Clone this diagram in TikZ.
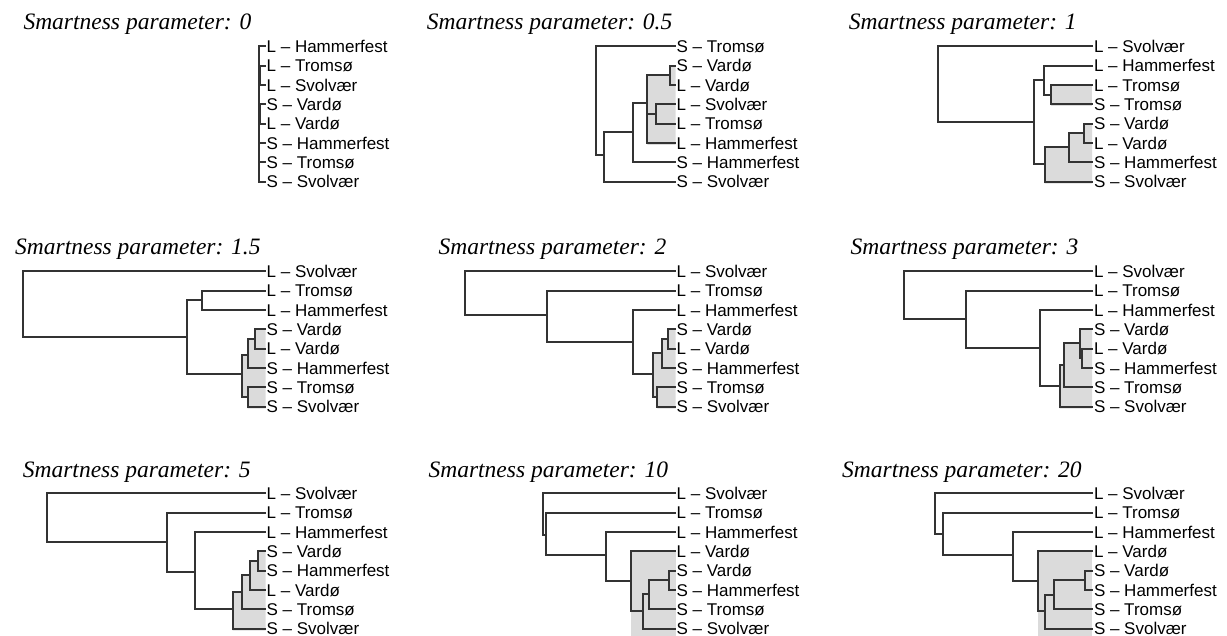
\documentclass[tikz,border=0pt]{standalone}
\usepackage{fontspec}
\setmainfont{Liberation Sans}
\newfontfamily\ttlfont{Liberation Serif}
\tikzset{
  tree/.style={draw=black!80, line width=1.8pt},
  clusterfill/.style={fill=black!14, draw=none},
  leaf/.style={anchor=west, inner sep=0pt, outer xsep=1pt, text height=12.2pt, text depth=0pt,
    font=\fontsize{17}{19}\selectfont},
  ttl/.style={anchor=base west, inner sep=0pt, font=\ttlfont\itshape\fontsize{23.5}{26}\selectfont},
  panel/.style={x=0.333333pt, y=-0.333333pt}
}
\newcommand\leafset[3]{\foreach \lbl [count=\i from 0] in {#3} {\node[leaf] (#1\i) at (#2,139+58*\i) {\lbl};}}
\begin{document}
\begin{tikzpicture}[x=1pt,y=-1pt]
\useasboundingbox (0,0) rectangle (1227,636);

% ---------- Panel A : 0 ----------
\begin{scope}[shift={(0pt,0pt)},panel]
\node[ttl] (tA) at (70,90) {Smartness parameter: 0};
\leafset{A}{797}{L – Hammerfest,L – Tromsø,L – Svolvær,S – Vardø,L – Vardø,S – Hammerfest,S – Tromsø,S – Svolvær}
\coordinate (a1) at (776,342);
\draw[tree] (A0) -| (a1) |- (A7);
\foreach \k in {1,...,6} {\draw[tree] (A\k) -- (A\k -| a1);}
\coordinate (a2) at (780,226);
\coordinate (a3) at (780,342);
\draw[tree] (A1) -| (a2) |- (A2);
\draw[tree] (A3) -| (a3) |- (A4);
\end{scope}

% ---------- Panel B : 0.5 ----------
\begin{scope}[shift={(410pt,0pt)},panel]
\fill[clusterfill] (797,197) -- (780,197) -- (780,226) -- (712,226) -- (712,435) -- (797,435) -- cycle;
\node[ttl] (tB) at (50,90) {Smartness parameter: 0.5};
\leafset{B}{797}{S – Tromsø,S – Vardø,L – Vardø,L – Svolvær,L – Tromsø,L – Hammerfest,S – Hammerfest,S – Svolvær}
\coordinate (b1) at (780,226);
\coordinate (b2) at (737,342);
\coordinate (b4) at (712,310);
\coordinate (b5) at (668,395);
\coordinate (b6) at (583,465);
\coordinate (b7) at (558,300);
\draw[tree] (B1) -| (b1) |- (B2);
\draw[tree] (B3) -| (b2) |- (B4);
\draw[tree] (b1) -| (b4) |- (B5);
\draw[tree] (b2) -- (b2 -| b4);
\draw[tree] (b4) -| (b5) |- (B6);
\draw[tree] (b5) -| (b6) |- (B7);
\draw[tree] (B0) -| (b7) |- (b6);
\end{scope}

% ---------- Panel C : 1 ----------
\begin{scope}[shift={(817pt,0pt)},panel]
\fill[clusterfill] (825,255) -- (703,255) -- (703,319) -- (825,319) -- cycle;
\fill[clusterfill] (825,371) -- (800,371) -- (800,400) -- (755,400) -- (755,440) -- (683,440) -- (683,551) -- (825,551) -- cycle;
\node[ttl] (tC) at (95,90) {Smartness parameter: 1};
\leafset{C}{828}{L – Svolvær,L – Hammerfest,L – Tromsø,S – Tromsø,S – Vardø,L – Vardø,S – Hammerfest,S – Svolvær}
\coordinate (c1) at (800,400);
\coordinate (c2) at (755,440);
\coordinate (c3) at (683,492);
\coordinate (c4) at (703,285);
\coordinate (c5) at (680,240);
\coordinate (c6) at (652,365);
\coordinate (c7) at (362,250);
\draw[tree] (C4) -| (c1) |- (C5);
\draw[tree] (c1) -| (c2) |- (C6);
\draw[tree] (c2) -| (c3) |- (C7);
\draw[tree] (C2) -| (c4) |- (C3);
\draw[tree] (C1) -| (c5) |- (c4);
\draw[tree] (c5) -| (c6) |- (c3);
\draw[tree] (C0) -| (c7) |- (c6);
\end{scope}

% ---------- Panel D : 1.5 ----------
\begin{scope}[shift={(0pt,-225pt)},panel]
\fill[clusterfill] (797,313) -- (765,313) -- (765,342) -- (743,342) -- (743,390) -- (725,390) -- (725,517) -- (743,517) -- (743,551) -- (797,551) -- cycle;
\node[ttl] (tD) at (45,90) {Smartness parameter: 1.5};
\leafset{D}{797}{L – Svolvær,L – Tromsø,L – Hammerfest,S – Vardø,L – Vardø,S – Hammerfest,S – Tromsø,S – Svolvær}
\coordinate (d1) at (765,342);
\coordinate (d2) at (743,390);
\coordinate (d3) at (743,517);
\coordinate (d4) at (725,447);
\coordinate (d5) at (605,225);
\coordinate (d6) at (560,335);
\coordinate (d7) at (68,250);
\draw[tree] (D3) -| (d1) |- (D4);
\draw[tree] (d1) -| (d2) |- (D5);
\draw[tree] (D6) -| (d3) |- (D7);
\draw[tree] (d2) -| (d4) |- (d3);
\draw[tree] (D1) -| (d5) |- (D2);
\draw[tree] (d5) -| (d6) |- (d4);
\draw[tree] (D0) -| (d7) |- (d6);
\end{scope}

% ---------- Panel E : 2 ----------
\begin{scope}[shift={(410pt,-225pt)},panel]
\fill[clusterfill] (797,313) -- (775,313) -- (775,342) -- (755,342) -- (755,385) -- (730,385) -- (730,517) -- (742,517) -- (742,551) -- (797,551) -- cycle;
\node[ttl] (tE) at (85,90) {Smartness parameter: 2};
\leafset{E}{797}{L – Svolvær,L – Tromsø,L – Hammerfest,S – Vardø,L – Vardø,S – Hammerfest,S – Tromsø,S – Svolvær}
\coordinate (e1) at (775,342);
\coordinate (e2) at (755,385);
\coordinate (e3) at (742,517);
\coordinate (e4) at (730,447);
\coordinate (e5) at (668,352);
\coordinate (e6) at (410,270);
\coordinate (e7) at (165,200);
\draw[tree] (E3) -| (e1) |- (E4);
\draw[tree] (e1) -| (e2) |- (E5);
\draw[tree] (E6) -| (e3) |- (E7);
\draw[tree] (e2) -| (e4) |- (e3);
\draw[tree] (E2) -| (e5) |- (e4);
\draw[tree] (E1) -| (e6) |- (e5);
\draw[tree] (E0) -| (e7) |- (e6);
\end{scope}

% ---------- Panel F : 3 ----------
\begin{scope}[shift={(817pt,-225pt)},panel]
\fill[clusterfill] (825,313) -- (790,313) -- (790,355) -- (742,355) -- (742,420) -- (728,420) -- (728,551) -- (825,551) -- cycle;
\node[ttl] (tF) at (100,90) {Smartness parameter: 3};
\leafset{F}{828}{L – Svolvær,L – Tromsø,L – Hammerfest,S – Vardø,L – Vardø,S – Hammerfest,S – Tromsø,S – Svolvær}
\coordinate (f1) at (795,400);
\coordinate (f2) at (790,355);
\coordinate (f3) at (742,420);
\coordinate (f4) at (728,482);
\coordinate (f5) at (668,368);
\coordinate (f6) at (447,282);
\coordinate (f7) at (262,200);
\draw[tree] (F4) -| (f1) |- (F5);
\draw[tree] (F3) -| (f2) |- (f1);
\draw[tree] (f2) -| (f3) |- (F6);
\draw[tree] (f3) -| (f4) |- (F7);
\draw[tree] (F2) -| (f5) |- (f4);
\draw[tree] (F1) -| (f6) |- (f5);
\draw[tree] (F0) -| (f7) |- (f6);
\end{scope}

% ---------- Panel G : 5 ----------
\begin{scope}[shift={(0pt,-447pt)},panel]
\fill[clusterfill] (797,313) -- (775,313) -- (775,342) -- (750,342) -- (750,385) -- (725,385) -- (725,435) -- (698,435) -- (698,551) -- (797,551) -- cycle;
\node[ttl] (tG) at (68,90) {Smartness parameter: 5};
\leafset{G}{797}{L – Svolvær,L – Tromsø,L – Hammerfest,S – Vardø,S – Hammerfest,L – Vardø,S – Tromsø,S – Svolvær}
\coordinate (g1) at (775,342);
\coordinate (g2) at (750,385);
\coordinate (g3) at (725,435);
\coordinate (g4) at (698,487);
\coordinate (g5) at (585,375);
\coordinate (g6) at (500,285);
\coordinate (g7) at (140,200);
\draw[tree] (G3) -| (g1) |- (G4);
\draw[tree] (g1) -| (g2) |- (G5);
\draw[tree] (g2) -| (g3) |- (G6);
\draw[tree] (g3) -| (g4) |- (G7);
\draw[tree] (G2) -| (g5) |- (g4);
\draw[tree] (G1) -| (g6) |- (g5);
\draw[tree] (G0) -| (g7) |- (g6);
\end{scope}

% ---------- Panel H : 10 ----------
\begin{scope}[shift={(410pt,-447pt)},panel]
\fill[clusterfill] (797,313) -- (663,313) -- (663,570) -- (797,570) -- cycle;
\node[ttl] (tH) at (55,90) {Smartness parameter: 10};
\leafset{H}{797}{L – Svolvær,L – Tromsø,L – Hammerfest,L – Vardø,S – Vardø,S – Hammerfest,S – Tromsø,S – Svolvær}
\coordinate (h1) at (778,400);
\coordinate (h2) at (718,440);
\coordinate (h3) at (700,492);
\coordinate (h4) at (663,403);
\coordinate (h5) at (587,325);
\coordinate (h6) at (408,265);
\coordinate (h7) at (400,200);
\draw[tree] (H4) -| (h1) |- (H5);
\draw[tree] (h1) -| (h2) |- (H6);
\draw[tree] (h2) -| (h3) |- (H7);
\draw[tree] (H3) -| (h4) |- (h3);
\draw[tree] (H2) -| (h5) |- (h4);
\draw[tree] (H1) -| (h6) |- (h5);
\draw[tree] (H0) -| (h7) |- (h6);
\end{scope}

% ---------- Panel I : 20 ----------
\begin{scope}[shift={(817pt,-447pt)},panel]
\fill[clusterfill] (825,313) -- (663,313) -- (663,570) -- (825,570) -- cycle;
\node[ttl] (tI) at (75,90) {Smartness parameter: 20};
\leafset{I}{828}{L – Svolvær,L – Tromsø,L – Hammerfest,L – Vardø,S – Vardø,S – Hammerfest,S – Tromsø,S – Svolvær}
\coordinate (i1) at (803,400);
\coordinate (i2) at (710,445);
\coordinate (i3) at (683,492);
\coordinate (i4) at (663,403);
\coordinate (i5) at (587,325);
\coordinate (i6) at (377,262);
\coordinate (i7) at (355,200);
\draw[tree] (I4) -| (i1) |- (I5);
\draw[tree] (i1) -| (i2) |- (I6);
\draw[tree] (i2) -| (i3) |- (I7);
\draw[tree] (I3) -| (i4) |- (i3);
\draw[tree] (I2) -| (i5) |- (i4);
\draw[tree] (I1) -| (i6) |- (i5);
\draw[tree] (I0) -| (i7) |- (i6);
\end{scope}
\end{tikzpicture}
\end{document}
